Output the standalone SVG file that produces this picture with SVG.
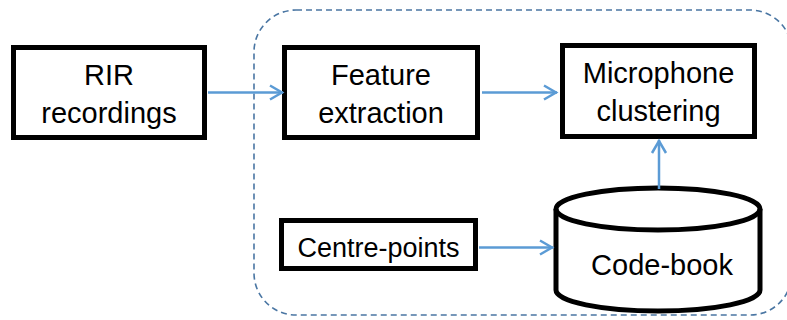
<svg xmlns="http://www.w3.org/2000/svg" width="787" height="320" viewBox="0 0 787 320">
  <style>
    .box { fill: #ffffff; stroke: #000000; stroke-width: 5; }
    .label { font-family: "Liberation Sans", Arial, sans-serif; font-size: 29px; fill: #000000; text-anchor: middle; }
    .small { font-size: 27px; }
    .link { fill: none; stroke: #5b9bd5; stroke-width: 2.5; marker-end: url(#arrow); }
    .group { fill: none; stroke: #4a76a3; stroke-width: 1.6; stroke-dasharray: 6 4; }
  </style>
  <defs>
    <marker id="arrow" markerUnits="userSpaceOnUse" markerWidth="20" markerHeight="20" viewBox="-16 -10 20 20" refX="0" refY="0" orient="auto">
      <path d="M-13,-7 L-1,0 L-13,7" fill="none" stroke="#5b9bd5" stroke-width="2.5" stroke-linejoin="miter"/>
    </marker>
  </defs>

  <!-- dashed processing frame -->
  <rect class="group" x="254" y="10" width="538" height="305" rx="42" ry="42"/>

  <g id="rir-recordings">
    <rect class="box" x="13.5" y="47.5" width="191" height="90"/>
    <text class="label" x="109" y="85">RIR</text>
    <text class="label" x="109" y="123">recordings</text>
  </g>

  <g id="feature-extraction">
    <rect class="box" x="284.5" y="47.5" width="193" height="90"/>
    <text class="label" x="381" y="85">Feature</text>
    <text class="label" x="381" y="123">extraction</text>
  </g>

  <g id="microphone-clustering">
    <rect class="box" x="562.5" y="45.5" width="192" height="91"/>
    <text class="label" x="658.5" y="83">Microphone</text>
    <text class="label" x="658.5" y="121">clustering</text>
  </g>

  <g id="centre-points">
    <rect class="box" x="281.5" y="220.5" width="194" height="48"/>
    <text class="label small" x="378.5" y="257">Centre-points</text>
  </g>

  <g id="code-book">
    <path class="box" d="M556,209 L556,290 A102,21 0 0 0 760,290 L760,209 A102,21 0 0 0 556,209 Z"/>
    <path d="M556,209 A102,21 0 0 0 760,209" fill="none" stroke="#000000" stroke-width="5"/>
    <text class="label" x="662" y="275">Code-book</text>
  </g>

  <g id="connectors">
    <line class="link" x1="208" y1="92.5" x2="283" y2="92.5"/>
    <line class="link" x1="482" y1="92.5" x2="557" y2="92.5"/>
    <line class="link" x1="659" y1="189" x2="659" y2="140"/>
    <line class="link" x1="479" y1="247.5" x2="553" y2="247.5"/>
  </g>
</svg>
